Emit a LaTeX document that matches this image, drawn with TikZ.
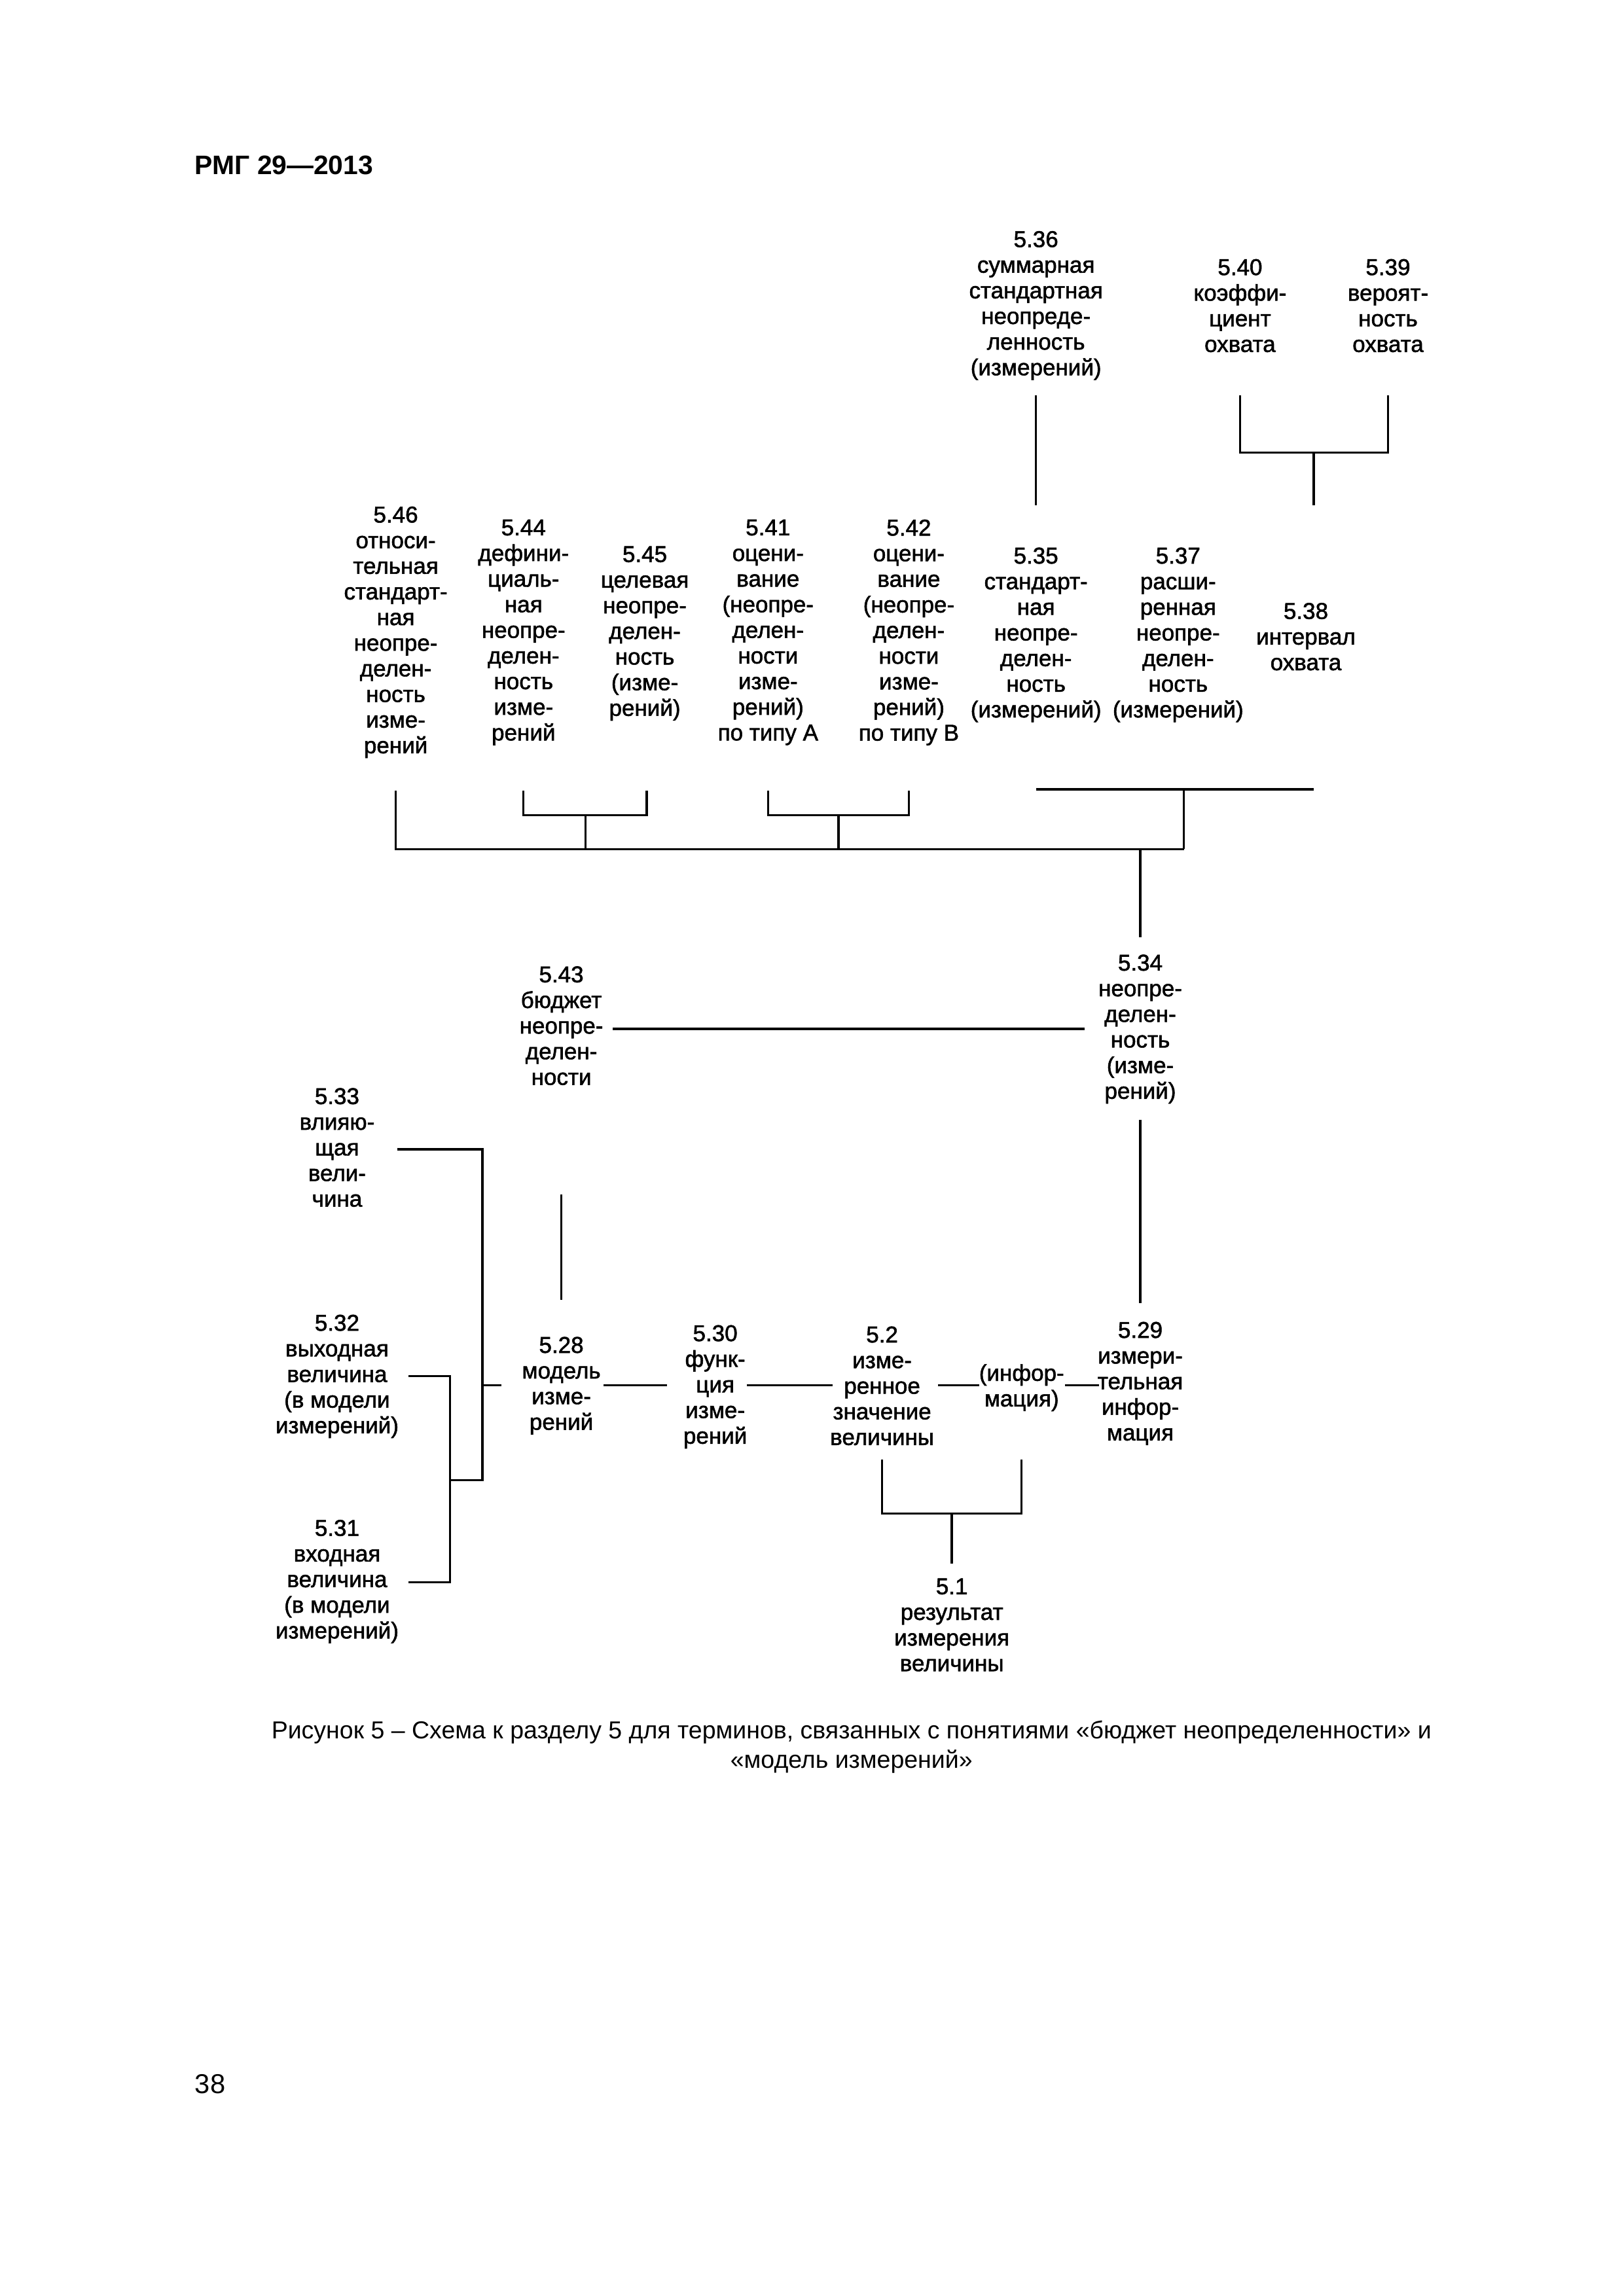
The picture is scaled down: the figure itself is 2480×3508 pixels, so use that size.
\documentclass[tikz,border=0pt]{standalone}
\usepackage{fontspec}
\setmainfont{Liberation Sans}
\newfontfamily\diagfamily{Liberation Sans}[FakeBold=1.6]
\newcommand\lblfont{\diagfamily\fontsize{8.4}{9.4}\selectfont}
\begin{document}
\begin{tikzpicture}[x=0.24pt,y=-0.24pt,
  lbl/.style={font=\lblfont, align=center, inner sep=0pt, anchor=north},
  ln/.style={line width=0.8pt}]
\useasboundingbox (0,0) rectangle (2480,3508);
% header, page number
\node[anchor=base west, inner sep=0pt, font=\fontsize{9.8}{12}\selectfont\bfseries] (hdr) at (297,267) {РМГ 29—2013};
\node[anchor=base west, inner sep=0pt, font=\fontsize{10}{12}\selectfont] (pg) at (297,3198) {38};
\begin{scope}[xscale=0.996, yscale=0.995]
\node[anchor=north, inner sep=0pt, align=center, font=\fontsize{9}{10.8}\selectfont] (cap) at (1306,2641)
  {Рисунок 5 – Схема к разделу 5 для терминов, связанных с понятиями «бюджет неопределенности» и\\«модель измерений»};
% top row
\node[lbl] (n536) at (1589,354) {5.36\\суммарная\\стандартная\\неопреде-\\ленность\\(измерений)};
\node[lbl] (n540) at (1902,397) {5.40\\коэффи-\\циент\\охвата};
\node[lbl] (n539) at (2129,397) {5.39\\вероят-\\ность\\охвата};
% middle row
\node[lbl] (n546) at (607,777) {5.46\\относи-\\тельная\\стандарт-\\ная\\неопре-\\делен-\\ность\\изме-\\рений};
\node[lbl] (n544) at (803,797) {5.44\\дефини-\\циаль-\\ная\\неопре-\\делен-\\ность\\изме-\\рений};
\node[lbl] (n545) at (989,838) {5.45\\целевая\\неопре-\\делен-\\ность\\(изме-\\рений)};
\node[lbl] (n541) at (1178,797) {5.41\\оцени-\\вание\\(неопре-\\делен-\\ности\\изме-\\рений)\\по типу А};
\node[lbl] (n542) at (1394,797) {5.42\\оцени-\\вание\\(неопре-\\делен-\\ности\\изме-\\рений)\\по типу В};
\node[lbl] (n535) at (1589,840) {5.35\\стандарт-\\ная\\неопре-\\делен-\\ность\\(измерений)};
\node[lbl] (n537) at (1807,840) {5.37\\расши-\\ренная\\неопре-\\делен-\\ность\\(измерений)};
\node[lbl] (n538) at (2003,925) {5.38\\интервал\\охвата};
% lower part
\node[lbl] (n543) at (861,1483) {5.43\\бюджет\\неопре-\\делен-\\ности};
\node[lbl] (n534) at (1749,1465) {5.34\\неопре-\\делен-\\ность\\(изме-\\рений)};
\node[lbl] (n533) at (517,1670) {5.33\\влияю-\\щая\\вели-\\чина};
\node[lbl] (n532) at (517,2018) {5.32\\выходная\\величина\\(в модели\\измерений)};
\node[lbl] (n531) at (517,2333) {5.31\\входная\\величина\\(в модели\\измерений)};
\node[lbl] (n528) at (861,2052) {5.28\\модель\\изме-\\рений};
\node[lbl] (n530) at (1097,2034) {5.30\\функ-\\ция\\изме-\\рений};
\node[lbl] (n52) at (1353,2036) {5.2\\изме-\\ренное\\значение\\величины};
\node[lbl] (ninf) at (1567,2094) {(инфор-\\мация)};
\node[lbl] (n529) at (1749,2029) {5.29\\измери-\\тельная\\инфор-\\мация};
\node[lbl] (n51) at (1460,2423) {5.1\\результат\\измерения\\величины};
% ---- connectors: top
\coordinate (t1) at (1589,607); \coordinate (t2) at (1589,776);
\draw[ln] (t1) -- (t2);
\coordinate (b40) at (1902,607); \coordinate (b39) at (2129,607);
\coordinate (b4039) at (2015,695); \coordinate (b38) at (2015,776);
\draw[ln] (b40) |- (b4039) -| (b39);
\draw[ln] (b4039) -- (b38);
% middle
\coordinate (m546) at (607,1214);
\coordinate (m544) at (803,1214); \coordinate (m545) at (992,1214);
\coordinate (j4445) at (898,1252); \coordinate (k4445) at (898,1304);
\draw[ln] (m544) |- (j4445) -| (m545);
\draw[ln] (j4445) -- (k4445);
\coordinate (m541) at (1178,1214); \coordinate (m542) at (1394,1214);
\coordinate (j4142) at (1286,1252); \coordinate (k4142) at (1286,1304);
\draw[ln] (m541) |- (j4142) -| (m542);
\draw[ln] (j4142) -- (k4142);
\coordinate (m535) at (1589,1212); \coordinate (m538) at (2015,1212);
\coordinate (jr) at (1816,1212); \coordinate (kr) at (1816,1304);
\draw[ln] (m535) -- (m538);
\draw[ln] (jr) -- (kr);
\draw[ln] (m546) |- (kr);
\coordinate (s534a) at (1749,1304); \coordinate (s534b) at (1749,1439);
\draw[ln] (s534a) -- (s534b);
% lower
\coordinate (h543) at (940,1580); \coordinate (h534) at (1664,1580);
\draw[ln] (h543) -- (h534);
\coordinate (a533) at (609,1765); \coordinate (a33b) at (740,2273); \coordinate (a33c) at (690,2273);
\draw[ln] (a533) -| (a33b) -- (a33c);
\coordinate (a532) at (627,2113); \coordinate (a531) at (627,2430); \coordinate (a3231) at (690,2430);
\draw[ln] (a532) -| (a3231) -- (a531);
\coordinate (l528a) at (740,2127); \coordinate (l528b) at (769,2127);
\draw[ln] (l528a) -- (l528b);
\coordinate (v543a) at (861,1834); \coordinate (v543b) at (861,1996);
\draw[ln] (v543a) -- (v543b);
\coordinate (c1a) at (926,2127); \coordinate (c1b) at (1023,2127);
\coordinate (c2a) at (1146,2127); \coordinate (c2b) at (1277,2127);
\coordinate (c3a) at (1439,2127); \coordinate (c3b) at (1502,2127);
\coordinate (c4a) at (1634,2127); \coordinate (c4b) at (1686,2127);
\draw[ln] (c1a) -- (c1b);
\draw[ln] (c2a) -- (c2b);
\draw[ln] (c3a) -- (c3b);
\draw[ln] (c4a) -- (c4b);
\coordinate (v534a) at (1749,1720); \coordinate (v534b) at (1749,2001);
\draw[ln] (v534a) -- (v534b);
\coordinate (r52) at (1353,2241); \coordinate (rinf) at (1567,2241);
\coordinate (r51j) at (1460,2324); \coordinate (r51) at (1460,2401);
\draw[ln] (r52) |- (r51j) -| (rinf);
\draw[ln] (r51j) -- (r51);
\end{scope}
\end{tikzpicture}
\end{document}
